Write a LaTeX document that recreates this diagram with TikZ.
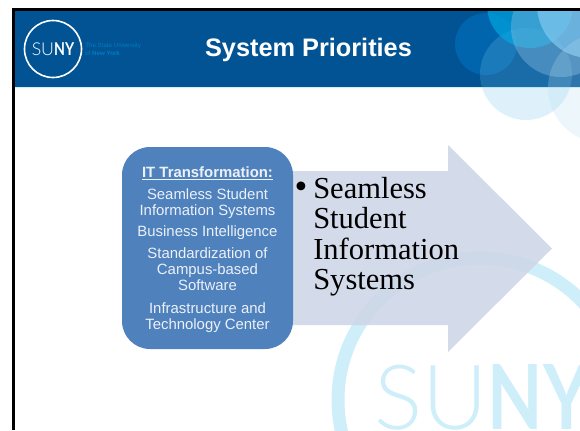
\documentclass[tikz,border=0pt]{standalone}
\usepackage{fontspec}
\usepackage{tikz}
\usetikzlibrary{shapes,arrows}
\setmainfont{Liberation Sans}
\newfontfamily\slideserif{Liberation Serif}
\newfontfamily\sunythin{Lato Light}
\newfontfamily\sunybold[FakeStretch=0.8]{Lato}
\definecolor{headerblue}{RGB}{1,83,148}
\definecolor{boxblue}{RGB}{79,129,189}
\definecolor{boxtext}{RGB}{236,241,248}
\definecolor{arrowblue}{RGB}{205,213,230}
\definecolor{ringblue}{RGB}{206,238,250}
\definecolor{tagblue}{RGB}{0,125,195}
\definecolor{c1}{RGB}{0,130,210}
\definecolor{c2}{RGB}{113,195,235}
\definecolor{c3}{RGB}{140,190,225}
\definecolor{c4}{RGB}{0,170,230}
\definecolor{c5}{RGB}{130,200,240}
\definecolor{c6}{RGB}{180,220,240}
\newcommand{\pxsize}{0.025cm}
\newcommand{\bubble}[5]{
	\node [circle, inner sep=0pt, fill=#4, fill opacity=#5, minimum size=#3*2*\pxsize] (#1) at (#2) {};}
\begin{document}
\begin{tikzpicture}[x=\pxsize,y=-\pxsize]
	\clip (0,0) rectangle (580,430);
	% watermark
	\node [circle, draw=ringblue, line width=13*\pxsize, inner sep=0pt, minimum size=284*\pxsize] (ring) at (480,400) {};
	\node [anchor=base west, inner sep=0pt, text=ringblue, font=\fontsize{64}{64}\selectfont] (bigsuny) at (374,429) {{\sunythin SU}{\sunybold\bfseries NY}};
	% header
	\fill [headerblue] (15,11) rectangle (580,87);
	\fill [ringblue] (15,87) rectangle (580,88);
	\begin{scope}
		\clip (15,11) rectangle (580,430);
		\bubble{b1}{486,44}{31}{c1}{0.4}
		\bubble{b2}{526,74}{46}{c2}{0.23}
		\bubble{b4}{530,5}{43}{c4}{0.65}
		\bubble{b3}{561,27}{50}{c3}{0.4}
		\bubble{b5}{590,5}{53}{c5}{0.7}
		\bubble{b6}{603,88}{55}{c6}{0.25}
	\end{scope}
	\fill [black] (12,8) rectangle (580,11);
	\fill [black] (12,8) rectangle (15,430);
	% logo
	\node [circle, draw=white, line width=1.6*\pxsize, inner sep=0pt, minimum size=57*\pxsize] (logo) at (53,49) {};
	\node [text=white, inner sep=0pt, font=\fontsize{12.6}{13}\selectfont] (logotext) at (logo) {{\sunythin SU}{\sunybold\bfseries NY}};
	\node [anchor=west, inner sep=0pt, align=left, text=tagblue, font=\fontsize{4.4}{5.6}\selectfont] (tagline) at (85,49) {The State University\\of \textbf{New York}};
	\node [text=white, inner sep=0pt, font=\fontsize{18}{18}\bfseries] (title) at (308.5,50) {System Priorities};
	% arrow and box
	\fill [arrowblue, fill opacity=0.88] (293,171) -- (448,171) -- (448,145) -- (552,248.5) -- (448,352) -- (448,325) -- (293,325) -- cycle;
	\node [fill=boxblue, rounded corners=28*\pxsize, minimum width=171*\pxsize, minimum height=202*\pxsize, inner sep=0pt] (box) at (207.5,248) {};
	\node [inner sep=0pt, text=boxtext, align=center, font=\fontsize{10.6}{11.4}\selectfont] (boxlabel) at (207.5,249.5) {\textbf{\underline{IT Transformation:}}\\[4.3pt]
		Seamless Student\\Information Systems\\[3.6pt]
		Business Intelligence\\[4.3pt]
		Standardization of\\Campus-based\\Software\\[4.3pt]
		Infrastructure and\\Technology Center};
	\node [inner sep=0pt, font=\slideserif\fontsize{26}{26}\selectfont] (bullet) at (301,190) {\textbullet};
	\node [anchor=north west, inner sep=0pt, align=left, font=\slideserif\fontsize{21.7}{21.6}\selectfont] (bulletext) at (313,177) {Seamless\\Student\\Information\\Systems};
\end{tikzpicture}
\end{document}
